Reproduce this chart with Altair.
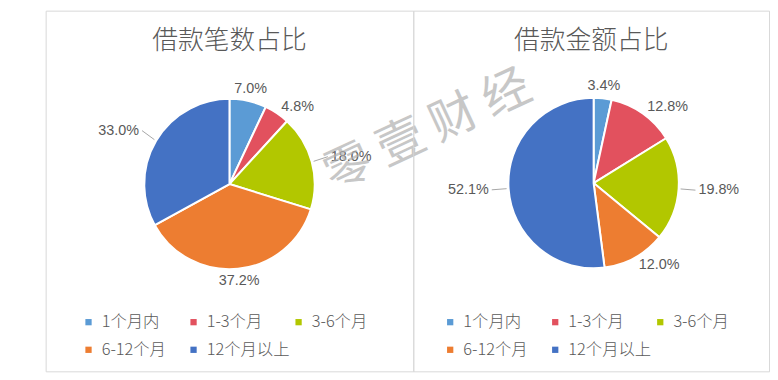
import altair as alt
import pandas as pd

categories = ["1个月内", "1-3个月", "3-6个月", "6-12个月", "12个月以上"]
count_share = [7.0, 4.8, 18.0, 37.2, 33.0]
amount_share = [3.4, 12.8, 19.8, 12.0, 52.1]
colors = ["#5B9BD5", "#E2515E", "#B2C700", "#ED7D31", "#4472C4"]

FONT = "Noto Sans CJK SC"
NUM_FONT = "Liberation Sans Narrow, Liberation Sans, Noto Sans"
TXT = "#595959"
H = 364
R = 86


def panel(title, values, width, cx, cy, legend_x, watermark=False):
    df = pd.DataFrame({"cat": categories, "v": values, "i": list(range(len(values)))})
    base = alt.Chart(df)
    arc = base.mark_arc(outerRadius=R, stroke="white", strokeWidth=2).encode(
        theta=alt.Theta("v:Q", stack=True),
        order=alt.Order("i:Q"),
        color=alt.Color(
            "cat:N",
            sort=categories,
            scale=alt.Scale(domain=categories, range=colors),
            legend=alt.Legend(
                title=None,
                orient="none",
                legendX=legend_x,
                legendY=306,
                direction="horizontal",
                columns=3,
                gridAlign="all",
                columnPadding=-13,
                rowPadding=11,
                symbolType="square",
                symbolSize=40,
                symbolStrokeWidth=0,
                labelFont=FONT,
                labelFontSize=16.5,
                labelFontWeight=300,
                labelColor=TXT,
                labelOffset=5,
                labelLimit=200,
            ),
        ),
        x=alt.value(cx),
        y=alt.value(cy),
    )

    lab = base.transform_joinaggregate(total="sum(v)").transform_window(
        cum="sum(v)", sort=[alt.SortField("i")], frame=[None, 0]
    ).transform_calculate(
        mid="(datum.cum - datum.v/2)/datum.total*2*PI",
        s="sin((datum.cum - datum.v/2)/datum.total*2*PI)",
        label="format(datum.v, '.1f') + '%'",
    ).transform_calculate(
        far="abs(datum.s) > 0.8",
        rad=f"abs(datum.s) > 0.8 ? {R + 20} : (abs(datum.s) > 0.3 ? {R + 8} : {R + 12})",
    ).transform_calculate(
        lx=f"{cx} + datum.rad*sin(datum.mid)",
        ly=f"{cy} - datum.rad*cos(datum.mid)",
        ex=f"{cx} + {R + 2}*sin(datum.mid)",
        ey=f"{cy} - {R + 2}*cos(datum.mid)",
        tx="datum.s > 0 ? datum.lx - 3 : datum.lx + 3",
    )

    def txt(filt, align):
        return lab.transform_filter(filt).mark_text(
            align=align, baseline="middle", font=NUM_FONT, fontSize=14.5, color=TXT
        ).encode(
            x=alt.X("lx:Q", scale=None, axis=None),
            y=alt.Y("ly:Q", scale=None, axis=None),
            text="label:N",
        )

    leader = lab.transform_filter("datum.far").mark_rule(
        color="#A6A6A6", strokeWidth=1
    ).encode(
        x=alt.X("ex:Q", scale=None, axis=None),
        y=alt.Y("ey:Q", scale=None, axis=None),
        x2="tx:Q",
        y2="ly:Q",
    )

    layers = [
        arc,
        leader,
        txt("datum.s > 0.3", "left"),
        txt("datum.s < -0.3", "right"),
        txt("abs(datum.s) <= 0.3", "center"),
    ]
    if watermark:
        wm = alt.Chart(pd.DataFrame({"t": ["零 壹 财 经"]})).mark_text(
            font=FONT, fontSize=48, color="#B0B0B0", opacity=0.7, angle=335,
            align="center", baseline="middle",
        ).encode(text="t:N", x=alt.value(386), y=alt.value(122))
        layers.append(wm)

    return alt.layer(*layers).properties(
        width=width,
        height=H,
        title=alt.TitleParams(
            title, font=FONT, fontSize=26, fontWeight=300, color=TXT,
            anchor="middle", offset=-44,
        ),
    )


left = panel("借款笔数占比", count_share, 371, 185.5, 175, 35, watermark=True)
right = panel("借款金额占比", amount_share, 359, 182, 174, 29)

chart = alt.hconcat(left, right, spacing=0, bounds="flush").resolve_scale(
    color="independent"
).resolve_legend(color="independent").configure_view(
    stroke="#D9D9D9", strokeWidth=1
).properties(
    padding={"left": 37, "top": 0, "right": 0, "bottom": 0},
    background="white",
)

chart.save("out.html", embed_options={"renderer": "svg", "actions": False})
